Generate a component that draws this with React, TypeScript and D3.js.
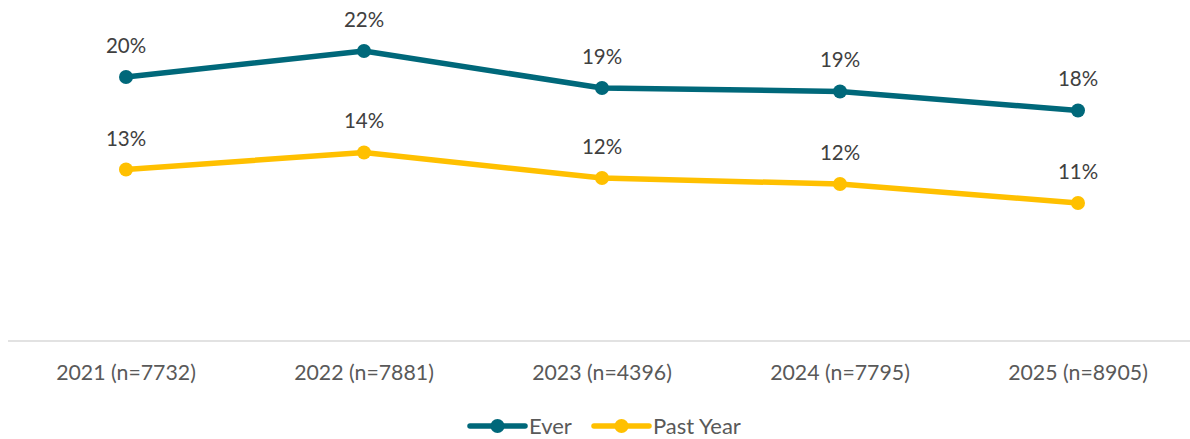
import { useEffect, useRef } from "react";
import * as d3 from "d3";

const categories = [
  "2021 (n=7732)",
  "2022 (n=7881)",
  "2023 (n=4396)",
  "2024 (n=7795)",
  "2025 (n=8905)",
];
const everValues = [20.15, 22.14, 19.31, 19.05, 17.6];
const pastYearValues = [13.09, 14.39, 12.44, 11.98, 10.53];
const seriesNames = ["Ever", "Past Year"];

const W = 1190;
const H = 439;
const COLORS = { ever: "#00687A", past: "#FFC000" };
const FONT = "Lato, 'Open Sans', sans-serif";

export default function App() {
  const svgRef = useRef<SVGSVGElement>(null);

  useEffect(() => {
    if (!svgRef.current) return;
    const svg = d3.select(svgRef.current);
    svg.selectAll("*").remove();

    const x = d3.scalePoint<string>().domain(categories).range([7, 1197]).padding(0.5);
    const y = d3.scaleLinear().domain([0, 25]).range([341, 13.5]);

    // category axis baseline
    svg
      .append("line")
      .attr("x1", 8)
      .attr("x2", W)
      .attr("y1", y(0))
      .attr("y2", y(0))
      .attr("stroke", "#d9d9d9")
      .attr("stroke-width", 1.5);

    svg
      .append("g")
      .selectAll("text")
      .data(categories)
      .enter()
      .append("text")
      .attr("x", (d) => x(d)!)
      .attr("y", 380)
      .attr("text-anchor", "middle")
      .attr("font-family", FONT)
      .attr("font-size", 21.3)
      .attr("fill", "#595959")
      .text((d) => d);

    const series = [
      { name: seriesNames[0], values: everValues, color: COLORS.ever },
      { name: seriesNames[1], values: pastYearValues, color: COLORS.past },
    ];

    const line = d3
      .line<number>()
      .x((_, i) => x(categories[i])!)
      .y((d) => y(d));

    series.forEach((s) => {
      const g = svg.append("g");
      g.append("path")
        .attr("d", line(s.values))
        .attr("fill", "none")
        .attr("stroke", s.color)
        .attr("stroke-width", 5.5)
        .attr("stroke-linejoin", "round")
        .attr("stroke-linecap", "round");
      g.selectAll("circle")
        .data(s.values)
        .enter()
        .append("circle")
        .attr("cx", (_, i) => x(categories[i])!)
        .attr("cy", (d) => y(d))
        .attr("r", 7)
        .attr("fill", s.color);
      g.selectAll("text")
        .data(s.values)
        .enter()
        .append("text")
        .attr("x", (_, i) => x(categories[i])!)
        .attr("y", (d) => y(d) - 24)
        .attr("text-anchor", "middle")
        .attr("font-family", FONT)
        .attr("font-size", 20.5)
        .attr("fill", "#404040")
        .text((d) => `${Math.round(d)}%`);
    });

    // legend
    const legend = svg.append("g").attr("transform", "translate(0,426)");
    const legendX = [470, 594];
    series.forEach((s, i) => {
      const lg = legend.append("g").attr("transform", `translate(${legendX[i]},0)`);
      lg.append("line")
        .attr("x1", 0)
        .attr("x2", 55)
        .attr("stroke", s.color)
        .attr("stroke-width", 5.5)
        .attr("stroke-linecap", "round");
      lg.append("circle").attr("cx", 27.5).attr("r", 7).attr("fill", s.color);
      lg.append("text")
        .attr("x", 59)
        .attr("y", 7.5)
        .attr("font-family", FONT)
        .attr("font-size", 22)
        .attr("fill", "#595959")
        .text(s.name);
    });
  }, []);

  return (
    <svg
      ref={svgRef}
      width={W}
      height={H}
      style={{ position: "absolute", left: 0, top: 0, background: "#fff" }}
    />
  );
}
